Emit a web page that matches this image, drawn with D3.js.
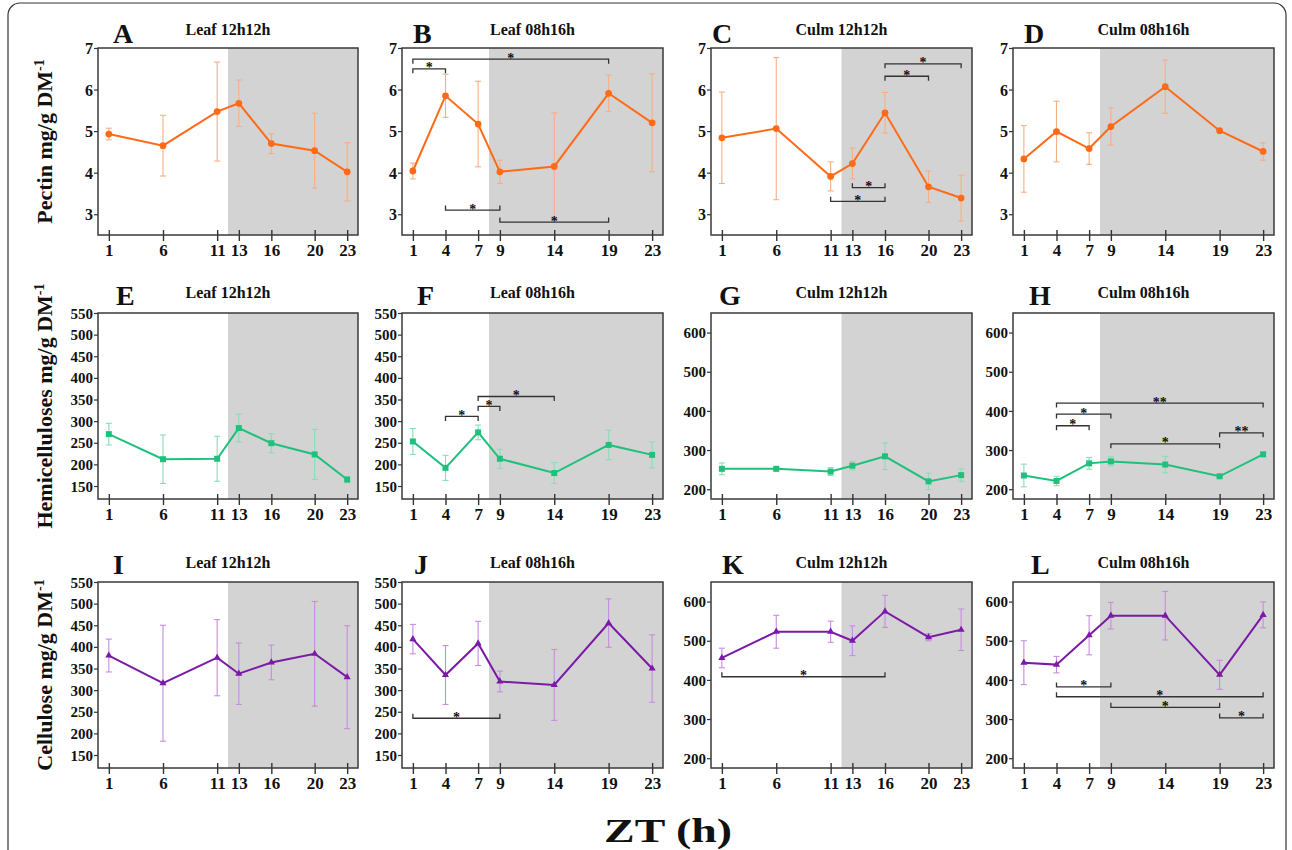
<!DOCTYPE html>
<html><head><meta charset="utf-8">
<script src="https://cdn.jsdelivr.net/npm/d3@7"></script>
<style>
body{margin:0;background:#fff}
svg text{font-family:"Liberation Serif","Times New Roman",serif !important;font-weight:bold;fill:#111}
</style>
</head><body>
<svg id="chart" width="1292" height="850"></svg>
<script>
// ---------------- DATA ----------------
const zt12 = [1, 6, 11, 13, 16, 20, 23];
const zt8 = [1, 4, 7, 9, 14, 19, 23];
const panelLetters = ["A","B","C","D","E","F","G","H","I","J","K","L"];
const panelTitles = ["Leaf 12h12h","Leaf 08h16h","Culm 12h12h","Culm 08h16h"];
const rowLabels = ["Pectin mg/g DM","Hemicelluloses mg/g DM","Cellulose mg/g DM"];
const pectinTicks = [3, 4, 5, 6, 7];
const fineTicks = [150, 200, 250, 300, 350, 400, 450, 500, 550];
const coarseTicks = [200, 300, 400, 500, 600];
const darkStart = [12, 8, 12, 8];

// Pectin
const pecA = [4.93, 4.65, 5.47, 5.67, 4.70, 4.53, 4.02];
const pecAErr = [0.14, 0.73, 1.19, 0.56, 0.24, 0.90, 0.70];
const pecB = [4.04, 5.85, 5.17, 4.02, 4.15, 5.91, 5.20];
const pecBErr = [0.19, 0.52, 1.03, 0.28, 1.29, 0.44, 1.18];
const pecC = [4.84, 5.06, 3.91, 4.22, 5.44, 3.66, 3.39];
const pecCErr = [1.10, 1.71, 0.35, 0.37, 0.49, 0.38, 0.55];
const pecD = [4.33, 4.99, 4.58, 5.11, 6.07, 5.01, 4.51];
const pecDErr = [0.80, 0.73, 0.38, 0.45, 0.64, 0.02, 0.21];
// Hemicelluloses
const hemE = [270, 212, 213, 284, 249, 223, 165];
const hemEErr = [25, 56, 52, 32, 22, 58, 7];
const hemF = [253, 192, 274, 213, 180, 245, 222];
const hemFErr = [30, 29, 17, 22, 24, 34, 30];
const hemG = [252, 252, 245, 260, 284, 220, 236];
const hemGErr = [15, 4, 10, 11, 34, 21, 16];
const hemH = [235, 221, 266, 271, 263, 233, 289];
const hemHErr = [29, 12, 15, 12, 21, 3, 5];
// Cellulose
const celI = [380, 316, 375, 338, 364, 384, 330];
const celIErr = [38, 134, 88, 71, 40, 121, 119];
const celJ = [418, 335, 408, 320, 312, 455, 350];
const celJErr = [34, 68, 51, 24, 82, 56, 78];
const celK = [456, 523, 523, 500, 575, 509, 528];
const celKErr = [25, 42, 27, 38, 41, 9, 53];
const celL = [444, 439, 514, 564, 564, 413, 566];
const celLErr = [56, 21, 50, 34, 62, 37, 33];

// significance brackets: [from ZT, to ZT, y value, label, legs (1 = down, -1 = up)]
const sigB = [[1,4,6.50,"*",1],[1,19,6.73,"*",1],[4,9,3.10,"*",-1],[9,19,2.81,"*",-1]];
const sigC = [[16,23,6.62,"*",1],[16,20,6.32,"*",1],[13,16,3.64,"*",-1],[11,16,3.31,"*",-1]];
const sigF = [[4,7,311,"*",1],[7,9,334,"*",1],[7,14,357,"*",1]];
const sigH = [[4,23,420,"**",1],[4,9,392,"*",1],[4,7,362,"*",1],[9,19,316,"*",1],[19,23,344,"**",1]];
const sigJ = [[1,9,235,"*",-1]];
const sigK = [[1,16,408,"*",-1]];
const sigL = [[4,9,382,"*",-1],[4,23,357,"*",-1],[9,19,330,"*",-1],[19,23,303,"*",-1]];

// ---------------- LAYOUT / STYLE ----------------
const colX = [[98,358],[402,663],[711,972],[1013,1274]];
const rowY = [[48,235],[313,499],[582,768]];
const rowColor = ["#FF6A17","#1FC07C","#7A1AA6"];
const rowErrColor = ["#F8AE84","#8ADDB8","#C98BE0"];
const grey = "#D3D3D3";
const FONT = '"Liberation Serif","Times New Roman",serif';

const svg = d3.select("#chart");

// outer border
svg.append("rect").attr("x",8).attr("y",3).attr("width",1278).attr("height",900)
  .attr("rx",12).attr("fill","none").attr("stroke","#333").attr("stroke-width",1.2);

const series = [
  [pecA,pecB,pecC,pecD],[hemE,hemF,hemG,hemH],[celI,celJ,celK,celL]];
const errs = [
  [pecAErr,pecBErr,pecCErr,pecDErr],[hemEErr,hemFErr,hemGErr,hemHErr],[celIErr,celJErr,celKErr,celLErr]];
const sigs = [[[],sigB,sigC,[]],[[],sigF,[],sigH],[[],sigJ,sigK,sigL]];
const letterOff = [[15,11,1,11],[18,15,8,16],[15,12,11,18]];

for (let r = 0; r < 3; r++) {
  for (let c = 0; c < 4; c++) {
    const [x0,x1] = colX[c], [y0,y1] = rowY[r];
    const zt = (c % 2 === 0) ? zt12 : zt8;
    let ydom, yt;
    if (r === 0) { ydom = [2.5, 7]; yt = pectinTicks; }
    else if (c < 2) { ydom = [120, 550]; yt = fineTicks; }
    else { ydom = [175, 650]; yt = coarseTicks; }
    const x = d3.scaleLinear().domain([0,24]).range([x0,x1]);
    const y = d3.scaleLinear().domain(ydom).range([y1,y0]);
    const g = svg.append("g");

    // dark period
    g.append("rect").attr("x",x(darkStart[c])).attr("y",y0)
      .attr("width",x(24)-x(darkStart[c])).attr("height",y1-y0).attr("fill",grey);

    // y axis
    const ya = g.append("g").attr("transform",`translate(${x0},0)`)
      .call(d3.axisLeft(y).tickValues(yt).tickFormat(d3.format("d")).tickSize(4).tickPadding(1));
    ya.attr("font-family",FONT).attr("font-weight","bold");
    ya.select(".domain").remove();
    ya.selectAll("line").attr("stroke","#333").attr("stroke-width",1.2);
    ya.selectAll("text").attr("font-size", r === 0 ? 16 : 15).attr("fill","#111").attr("dy","0.34em");

    // x axis
    const xa = g.append("g").attr("transform",`translate(0,${y1})`)
      .call(d3.axisBottom(x).tickValues(zt).tickFormat(d3.format("d")).tickSize(6).tickPadding(3));
    xa.attr("font-family",FONT).attr("font-weight","bold");
    xa.select(".domain").remove();
    xa.selectAll("line").attr("y1",-5).attr("stroke","#333").attr("stroke-width",1.4);
    xa.selectAll("text").attr("font-size",17).attr("fill","#111");

    // frame
    g.append("rect").attr("x",x0).attr("y",y0).attr("width",x1-x0).attr("height",y1-y0)
      .attr("fill","none").attr("stroke","#3a3a3a").attr("stroke-width",1.5);

    // error bars
    const vals = series[r][c], ev = errs[r][c];
    const eb = g.append("g").attr("stroke",rowErrColor[r]).attr("stroke-width",1.1);
    zt.forEach((t,i) => {
      const cx = x(t), yh = y(vals[i]+ev[i]), yl = y(vals[i]-ev[i]);
      eb.append("line").attr("x1",cx).attr("x2",cx).attr("y1",yh).attr("y2",yl);
      eb.append("line").attr("x1",cx-3).attr("x2",cx+3).attr("y1",yh).attr("y2",yh);
      eb.append("line").attr("x1",cx-3).attr("x2",cx+3).attr("y1",yl).attr("y2",yl);
    });

    // line
    const line = d3.line().x((d,i)=>x(zt[i])).y(d=>y(d));
    g.append("path").datum(vals).attr("d",line).attr("fill","none")
      .attr("stroke",rowColor[r]).attr("stroke-width",2);

    // markers
    const symType = [d3.symbolCircle, d3.symbolSquare, d3.symbolTriangle][r];
    const symSize = [36, 36, 22][r];
    g.selectAll(".pt").data(vals).enter().append("path")
      .attr("transform",(d,i)=>`translate(${x(zt[i])},${y(d)})`)
      .attr("d",d3.symbol().type(symType).size(symSize)).attr("fill",rowColor[r]);

    // significance brackets
    sigs[r][c].forEach(([a,b,v,lab,dir]) => {
      const yy = y(v), xa_ = x(a), xb = x(b), leg = 4.5*dir;
      g.append("path").attr("d",`M${xa_},${yy+leg}V${yy}H${xb}V${yy+leg}`)
        .attr("fill","none").attr("stroke","#333").attr("stroke-width",1.3);
      g.append("text").attr("x",(xa_+xb)/2).attr("y",yy+3.5).attr("text-anchor","middle")
        .attr("font-size",14).text(lab);
    });

    // letter and title
    const lb = [y0-5, y0-8, y0-8][r], tb = [y0-13, y0-15, y0-14][r];
    g.append("text").attr("x",x0+letterOff[r][c]).attr("y",lb).attr("font-size",28)
      .text(panelLetters[r*4+c]);
    g.append("text").attr("x",(x0+x1)/2).attr("y",tb).attr("text-anchor","middle")
      .attr("font-size",16).text(panelTitles[c]);
  }
  // row label
  const cy = (rowY[r][0]+rowY[r][1])/2;
  const t = svg.append("text").attr("transform",`translate(52,${cy}) rotate(-90)`)
    .attr("text-anchor","middle").attr("font-size",22);
  t.append("tspan").text(rowLabels[r]);
  t.append("tspan").attr("dy",-8).attr("font-size",14).text("-1");
}

svg.append("text").attr("transform","translate(668,842) scale(1.35,1)").attr("text-anchor","middle")
  .attr("font-size",34).text("ZT (h)");
</script>
</body></html>
